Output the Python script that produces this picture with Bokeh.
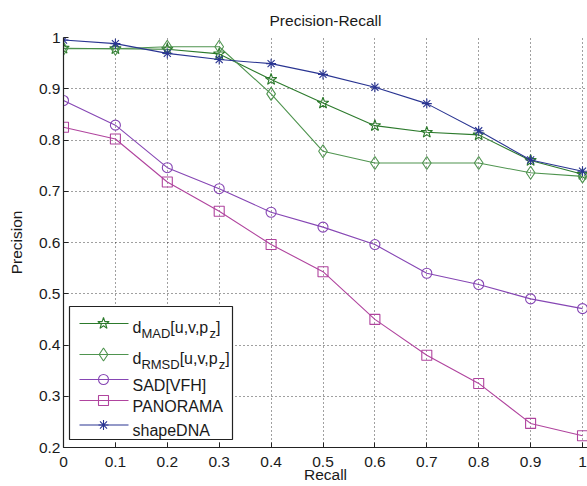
from bokeh.plotting import figure
from bokeh.models import Range1d, FixedTicker, Label
from bokeh.embed import file_html
from bokeh.resources import INLINE

# ---------------- data ----------------
recall = [0, 0.1, 0.2, 0.3, 0.4, 0.5, 0.6, 0.7, 0.8, 0.9, 1]
d_mad = [0.979, 0.978, 0.977, 0.968, 0.918, 0.872, 0.828, 0.815, 0.810, 0.760, 0.733]
d_rmsd = [0.978, 0.978, 0.982, 0.982, 0.890, 0.778, 0.755, 0.755, 0.755, 0.736, 0.729]
sad_vfh = [0.877, 0.829, 0.746, 0.705, 0.659, 0.630, 0.596, 0.540, 0.518, 0.490, 0.471]
panorama = [0.825, 0.802, 0.718, 0.661, 0.596, 0.543, 0.450, 0.380, 0.325, 0.247, 0.223]
shape_dna = [0.995, 0.988, 0.969, 0.957, 0.949, 0.928, 0.903, 0.871, 0.818, 0.761, 0.739]

x_ticks = [0, 0.1, 0.2, 0.3, 0.4, 0.5, 0.6, 0.7, 0.8, 0.9, 1]
x_tick_labels = ["0", "0.1", "0.2", "0.3", "0.4", "0.5", "0.6", "0.7", "0.8", "0.9", "1"]
y_ticks = [0.2, 0.3, 0.4, 0.5, 0.6, 0.7, 0.8, 0.9, 1]
y_tick_labels = ["0.2", "0.3", "0.4", "0.5", "0.6", "0.7", "0.8", "0.9", "1"]

# ---------------- styles ----------------
FONT = "Liberation Sans"
TXT = "#1a1a1a"
series = [
    # values, color, marker, size
    (d_mad, "#2c7a2c", "star", 12),
    (d_rmsd, "#4f944f", "diamond", 13),
    (sad_vfh, "#8646b4", "circle", 10),
    (panorama, "#b0449e", "square", 10),
    (shape_dna, "#2a3592", "asterisk", 10),
]

W, H = 587, 486
ML, MR, MT, MB = 63, 0, 37, 39
PXU = 519.0                      # pixels per unit of recall
FW = W - ML - MR
FH = H - MT - MB
X_END = FW / PXU                 # let the plot area run a few pixels past recall = 1

p = figure(width=W, height=H, x_range=Range1d(0, X_END), y_range=Range1d(0.2, 1),
           output_backend="svg", toolbar_location=None,
           min_border_left=ML, min_border_right=MR, min_border_top=MT, min_border_bottom=MB,
           title="Precision-Recall")
p.background_fill_color = "white"
p.border_fill_color = "white"
p.outline_line_color = None

p.title.align = "center"
p.title.text_font = FONT
p.title.text_font_size = "15.5px"
p.title.text_font_style = "normal"
p.title.text_color = TXT
p.title.standoff = 17

p.xaxis.ticker = FixedTicker(ticks=x_ticks)
p.yaxis.ticker = FixedTicker(ticks=y_ticks)
p.xaxis.major_label_overrides = dict(zip(x_ticks, x_tick_labels))
p.yaxis.major_label_overrides = dict(zip(y_ticks, y_tick_labels))
p.xaxis.axis_label = "Recall"
p.yaxis.axis_label = "Precision"
for ax in (p.xaxis[0], p.yaxis[0]):
    ax.axis_line_color = "#222222"
    ax.axis_line_width = 1.2
    ax.major_tick_in = 5
    ax.major_tick_out = 0
    ax.major_tick_line_color = "#222222"
    ax.minor_tick_line_color = None
    ax.major_label_text_font = FONT
    ax.major_label_text_font_size = "15.5px"
    ax.major_label_text_color = TXT
    ax.axis_label_text_font = FONT
    ax.axis_label_text_font_size = "15.5px"
    ax.axis_label_text_font_style = "normal"
    ax.axis_label_text_color = TXT
p.xaxis.major_label_standoff = 9
p.xaxis.axis_label_standoff = -4
p.yaxis.major_label_standoff = 3
p.yaxis.axis_label_standoff = 11

for g in (p.xgrid[0], p.ygrid[0]):
    g.grid_line_color = "black"
    g.grid_line_dash = "1 3"
    g.grid_line_alpha = 0.75
    g.grid_line_width = 1

for vals, color, marker, size in series:
    p.line(recall, vals, line_color=color, line_width=1.1)
    p.scatter(recall, vals, marker=marker, size=size, fill_color=None,
              line_color=color, line_width=1.1)

# ---------------- layout helpers: pixels from the frame's bottom-left ----------------
def X(dx):
    return dx / PXU

def Y(dy):
    return 0.2 + dy / FH * 0.8

# ---------------- legend (drawn by hand) ----------------
p.quad(left=[X(6)], right=[X(169)], bottom=[Y(8)], top=[Y(141)],
       fill_color="white", line_color="#222222", line_width=1.2)

row_y = [124, 93, 68, 47, 22.5]
for (vals, color, marker, size), ry in zip(series, row_y):
    p.line([X(16), X(65)], [Y(ry), Y(ry)], line_color=color, line_width=1.1)
    p.scatter([X(40)], [Y(ry)], marker=marker, size=size, fill_color=None,
              line_color=color, line_width=1.1)

def lab(dx, dy, text, size):
    p.add_layout(Label(x=X(dx), y=Y(dy), text=text, text_font=FONT,
                       text_font_size=size, text_color=TXT,
                       text_baseline="alphabetic", text_align="left"))

MAIN, SUB = 16, 13
W_d = 0.556 * MAIN
W_brk = 2.446 * MAIN
TX = 69
for ry, sub_txt, sub_w in ((124, "MAD", 2.222 * SUB), (93, "RMSD", 2.944 * SUB)):
    lab(TX, ry - 4, "d", "16px")
    lab(TX + W_d, ry - 10, sub_txt, "13px")
    lab(TX + W_d + sub_w, ry - 4, "[u,v,p", "16px")
    lab(TX + W_d + sub_w + W_brk, ry - 10, "z", "13px")
    lab(TX + W_d + sub_w + W_brk + 0.5 * SUB, ry - 4, "]", "16px")

for ry, t in zip(row_y[2:], ["SAD[VFH]", "PANORAMA", "shapeDNA"]):
    lab(TX, ry - 5.5, t, "16px")

open("out.html", "w").write(file_html(p, INLINE))
